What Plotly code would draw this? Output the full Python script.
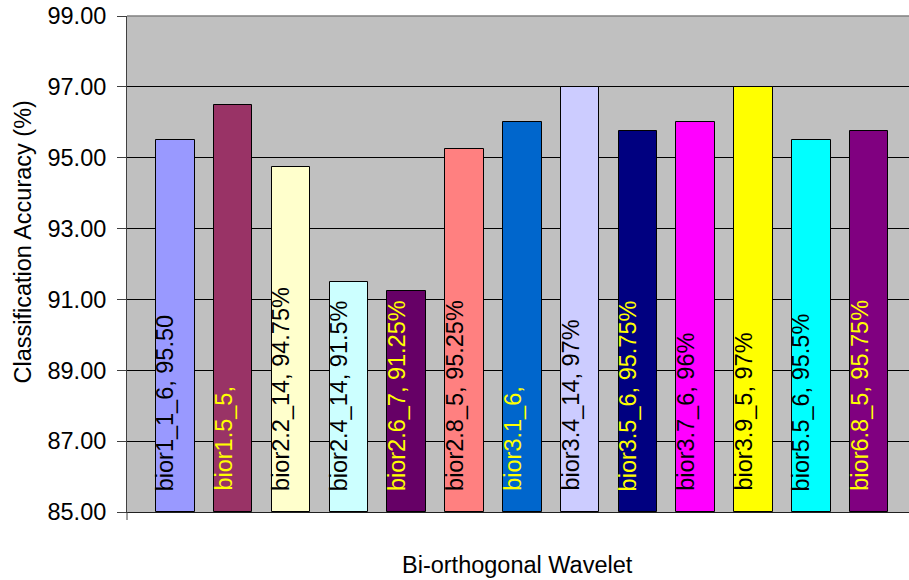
import plotly.graph_objects as go

# Bi-orthogonal wavelet variants and their classification accuracy (%)
wavelets = ["bior1_1_6", "bior1.5_5", "bior2.2_14", "bior2.4_14", "bior2.6_7",
            "bior2.8_5", "bior3.1_6", "bior3.4_14", "bior3.5_6", "bior3.7_6",
            "bior3.9_5", "bior5.5_6", "bior6.8_5"]
accuracy = [95.5, 96.5, 94.75, 91.5, 91.25, 95.25, 96.0, 97.0, 95.75, 96.0,
            97.0, 95.5, 95.75]
bar_labels = ["bior1_1_6, 95.50", "bior1.5_5,", "bior2.2_14, 94.75%",
              "bior2.4_14, 91.5%", "bior2.6_7, 91.25%", "bior2.8_5, 95.25%",
              "bior3.1_6,", "bior3.4_14, 97%", "bior3.5_6, 95.75%",
              "bior3.7_6, 96%", "bior3.9_5, 97%", "bior5.5_6, 95.5%",
              "bior6.8_5, 95.75%"]
bar_colors = ["#9999FF", "#993366", "#FFFFCC", "#CCFFFF", "#660066",
              "#FF8080", "#0066CC", "#CCCCFF", "#000080", "#FF00FF",
              "#FFFF00", "#00FFFF", "#800080"]
label_colors = ["#000000", "#FFFF00", "#000000", "#000000", "#FFFF00",
                "#000000", "#FFFF00", "#000000", "#FFFF00", "#000000",
                "#000000", "#000000", "#FFFF00"]
y_ticks = [85, 87, 89, 91, 93, 95, 97, 99]
y_min, y_max = 85, 99

FONT = "Liberation Sans, Arial, sans-serif"
FS = 23.5

fig = go.Figure()
fig.add_trace(go.Bar(
    x=wavelets,
    y=[a - y_min for a in accuracy],
    base=y_min,
    width=0.666,
    marker=dict(color=bar_colors, line=dict(color="#000000", width=1)),
    hoverinfo="skip",
    showlegend=False,
))

# rotated labels sitting inside each bar, starting near the base
annotations = []
for name, lab, col in zip(wavelets, bar_labels, label_colors):
    annotations.append(dict(
        x=name, y=y_min, xref="x", yref="y",
        text=lab, textangle=-90, showarrow=False,
        xanchor="center", yanchor="bottom", xshift=-10, yshift=19,
        font=dict(family=FONT, size=FS, color=col),
    ))

# axis titles
annotations.append(dict(
    text="Classification Accuracy (%)", textangle=-90, showarrow=False,
    xref="paper", yref="paper", x=(22 - 127) / 782, y=(512 - 242.5) / 496,
    xanchor="center", yanchor="middle",
    font=dict(family=FONT, size=FS, color="#000000"),
))
annotations.append(dict(
    text="Bi-orthogonal Wavelet", showarrow=False,
    xref="paper", yref="paper", x=(517 - 127) / 782, y=(512 - 565) / 496,
    xanchor="center", yanchor="middle",
    font=dict(family=FONT, size=FS, color="#000000"),
))

fig.update_layout(
    width=909, height=580,
    margin=dict(l=127, r=0, t=16, b=68),
    paper_bgcolor="#FFFFFF",
    plot_bgcolor="#C0C0C0",
    bargap=0,
    annotations=annotations,
    shapes=[
        # plot-area top border
        dict(type="line", xref="paper", yref="paper", x0=0, x1=1, y0=1, y1=1,
             line=dict(color="#808080", width=1.5), layer="above"),
        # category-axis tick mark at the left end
        dict(type="line", xref="paper", yref="paper", x0=0, x1=0,
             y0=0, y1=-8 / 496, line=dict(color="#404040", width=1)),
    ],
    xaxis=dict(
        range=[-0.835, 12.688],
        showticklabels=False, ticks="",
        showgrid=False, zeroline=False,
        showline=True, linecolor="#202020", linewidth=1,
    ),
    yaxis=dict(
        range=[y_min, y_max],
        tickvals=y_ticks, tickformat=".2f",
        ticks="outside", ticklen=9, tickcolor="#404040", tickwidth=1,
        ticklabelstandoff=6,
        tickfont=dict(family=FONT, size=FS, color="#000000"),
        showgrid=True, gridcolor="#000000", gridwidth=1,
        zeroline=False,
        showline=True, linecolor="#404040", linewidth=1,
    ),
)

fig.write_html("out.html")
